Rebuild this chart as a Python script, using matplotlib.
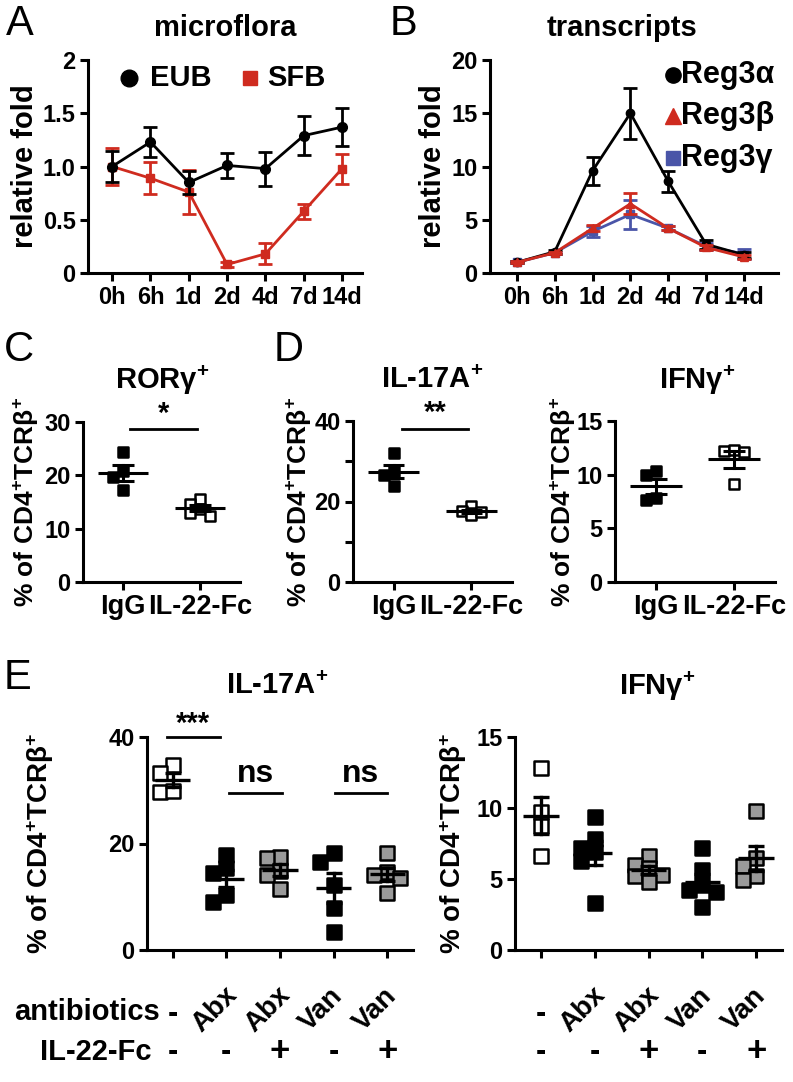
import numpy as np
import matplotlib
matplotlib.use("Agg")
import matplotlib.pyplot as plt

plt.rcParams["font.family"] = ["Liberation Sans", "DejaVu Sans"]
plt.rcParams["font.weight"] = "bold"
plt.rcParams["mathtext.fontset"] = "custom"
plt.rcParams["mathtext.rm"] = "Liberation Sans:bold"
plt.rcParams["mathtext.bf"] = "Liberation Sans:bold"
plt.rcParams["mathtext.default"] = "rm"

# ---- data ----
time_labels = ["0h", "6h", "1d", "2d", "4d", "7d", "14d"]

eub_mean = [1.00, 1.23, 0.85, 1.01, 0.98, 1.29, 1.37]
eub_err = [0.15, 0.14, 0.11, 0.12, 0.16, 0.18, 0.18]
sfb_mean = [1.00, 0.89, 0.76, 0.08, 0.18, 0.58, 0.98]
sfb_err = [0.17, 0.15, 0.21, 0.02, 0.10, 0.07, 0.14]

reg3a_mean = [1.0, 2.0, 9.6, 15.0, 8.6, 2.7, 1.7]
reg3a_err = [0.1, 0.2, 1.3, 2.4, 1.0, 0.4, 0.3]
reg3b_mean = [1.0, 1.9, 4.2, 6.5, 4.2, 2.4, 1.5]
reg3b_err = [0.1, 0.1, 0.3, 1.0, 0.2, 0.2, 0.2]
reg3g_mean = [1.0, 1.9, 3.9, 5.5, 4.2, 2.5, 1.8]
reg3g_err = [0.1, 0.1, 0.5, 1.4, 0.2, 0.3, 0.5]

cd_groups = ["IgG", "IL-22-Fc"]
ror_igg = [24.4, 20.8, 19.6, 17.2]
ror_il22 = [15.5, 14.6, 13.6, 13.0, 12.3]
il17_igg = [32.0, 27.5, 26.5, 23.8]
il17_il22 = [19.0, 17.6, 17.2, 16.6, 17.4]
ifn_igg = [10.3, 10.0, 7.8, 7.6]
ifn_il22 = [12.2, 12.3, 12.1, 9.1]

e_antibiotics = ["-", "Abx", "Abx", "Van", "Van"]
e_il22 = ["-", "-", "+", "-", "+"]
e_il17 = [
    [34.7, 33.3, 29.7, 29.9],
    [17.8, 15.4, 14.4, 10.3, 9.0],
    [17.5, 17.2, 14.8, 14.0, 11.4],
    [18.2, 16.5, 12.2, 7.9, 3.4],
    [18.2, 14.7, 14.1, 13.5, 10.7],
]
e_ifn = [
    [12.8, 9.7, 8.7, 6.6],
    [9.4, 7.8, 7.2, 6.9, 6.3, 3.3],
    [6.6, 6.0, 5.8, 5.3, 5.2, 4.8],
    [7.2, 5.6, 4.6, 4.2, 4.1, 3.0],
    [9.8, 6.5, 5.9, 5.2, 4.9],
]

RED = "#cf2b1f"
BLUE = "#4a55a8"
GRAY = "#9a9a9a"

W, H = 793, 1082
fig = plt.figure(figsize=(W / 100, H / 100), dpi=100)


def box(x0, y0, x1, y1):
    return [x0 / W, 1 - y1 / H, (x1 - x0) / W, (y1 - y0) / H]


def ftext(x, y, s, **kw):
    fig.text(x / W, 1 - y / H, s, **kw)


def style(ax, lw=2.2, size=17):
    for s in ["top", "right"]:
        ax.spines[s].set_visible(False)
    for s in ["left", "bottom"]:
        ax.spines[s].set_linewidth(lw)
    ax.tick_params(width=lw, length=6, labelsize=size, pad=3)
    for t in ax.get_yticklabels() + ax.get_xticklabels():
        t.set_fontweight("bold")


def place_ylabel(ax, text, px, size):
    # centre of the y label at a pixel column of the figure
    x0 = ax.get_position().x0 * W
    w = ax.get_position().width * W
    ax.set_ylabel(text, fontsize=size, fontweight="bold", va="center")
    ax.yaxis.set_label_coords((px - x0) / w, 0.5)


ylab = "% of CD4$^{+}$TCRβ$^{+}$"

# ---- A ----
axA = fig.add_axes(box(88, 60, 362, 273))
x = np.arange(len(time_labels))
axA.errorbar(x, eub_mean, yerr=eub_err, color="black", lw=2, marker="o", ms=7,
             capsize=5, capthick=2, elinewidth=2, zorder=3)
axA.errorbar(x, sfb_mean, yerr=sfb_err, color=RED, lw=2, marker="s", ms=6,
             capsize=5, capthick=2, elinewidth=2, zorder=2)
axA.set_xlim(-0.63, 6.52)
axA.set_ylim(0, 2)
axA.set_yticks([0, 0.5, 1.0, 1.5, 2])
axA.set_yticklabels(["0", "0.5", "1.0", "1.5", "2"])
axA.set_xticks(x)
axA.set_xticklabels(time_labels)
style(axA)
place_ylabel(axA, "relative fold", 25, 21)
axA.plot([0.45], [1.83], "o", color="black", ms=12, clip_on=False)
axA.text(1.0, 1.83, "EUB", fontsize=21, va="center", fontweight="bold")
axA.plot([3.6], [1.83], "s", color=RED, ms=10, clip_on=False)
axA.text(4.05, 1.83, "SFB", fontsize=21, va="center", fontweight="bold")

# ---- B ----
axB = fig.add_axes(box(490, 60, 778, 273))
axB.errorbar(x, reg3a_mean, yerr=reg3a_err, color="black", lw=2, marker="o", ms=6,
             capsize=5, capthick=2, elinewidth=2, zorder=3)
axB.errorbar(x, reg3g_mean, yerr=reg3g_err, color=BLUE, lw=2, marker="s", ms=6,
             capsize=5, capthick=2, elinewidth=2, zorder=2)
axB.errorbar(x, reg3b_mean, yerr=reg3b_err, color=RED, lw=2, marker="^", ms=6,
             capsize=5, capthick=2, elinewidth=2, zorder=4)
axB.set_xlim(-0.71, 6.9)
axB.set_ylim(0, 20)
axB.set_yticks([0, 5, 10, 15, 20])
axB.set_xticks(x)
axB.set_xticklabels(time_labels)
style(axB)
place_ylabel(axB, "relative fold", 433, 21)
leg_names = ["Reg3α", "Reg3β", "Reg3γ"]
leg_style = [("o", "black", 11), ("^", RED, 11), ("s", BLUE, 10)]
for i, (name, (m, c, s)) in enumerate(zip(leg_names, leg_style)):
    yy = 18.6 - i * 3.9
    axB.plot([4.12], [yy], m, color=c, ms=s, clip_on=False)
    axB.text(4.33, yy, name, fontsize=22, va="center", fontweight="bold")


# ---- scatter helpers ----
def swarm_offsets(ax, vals, marker_px, step=0.5, gap=0.8):
    order = np.argsort(vals)[::-1]
    placed = []
    offs = np.zeros(len(vals))
    p0 = ax.transData.transform((0, 0))
    p1 = ax.transData.transform((1, 1))
    sx, sy = p1[0] - p0[0], p1[1] - p0[1]
    cands = [0, -1, 1, -2, 2, -3, 3]
    for i in order:
        vy = vals[i] * sy
        for c in cands:
            ox = c * marker_px * step
            ok = all(abs(vy - py) > marker_px * gap or abs(ox - px) > marker_px * gap
                     for px, py in placed)
            if ok:
                placed.append((ox, vy))
                offs[i] = ox / sx
                break
    return offs


def dot_group(ax, xc, vals, face, ms, mean_hw=0.33, cap_hw=0.14, lw=2.2):
    vals = np.asarray(vals, float)
    offs = swarm_offsets(ax, vals, ms * 100 / 72)
    ax.scatter(xc + offs, vals, marker="s", s=ms ** 2, facecolor=face,
               edgecolor="black", linewidth=1.8, zorder=3)
    m = vals.mean()
    se = vals.std(ddof=1) / np.sqrt(len(vals))
    ax.plot([xc - mean_hw, xc + mean_hw], [m, m], color="black", lw=lw, zorder=4,
            solid_capstyle="butt")
    ax.plot([xc - cap_hw, xc + cap_hw], [m + se, m + se], color="black", lw=lw, zorder=4,
            solid_capstyle="butt")
    ax.plot([xc - cap_hw, xc + cap_hw], [m - se, m - se], color="black", lw=lw, zorder=4,
            solid_capstyle="butt")
    ax.plot([xc, xc], [m - se, m + se], color="black", lw=lw, zorder=4)


def sig(ax, x0, x1, y, label, ty, fs=21):
    ax.plot([x0, x1], [y, y], color="black", lw=2, clip_on=False)
    ax.text((x0 + x1) / 2, ty, label, ha="center", va="center", fontsize=fs,
            fontweight="bold", clip_on=False)


def cd_panel(rect, ylim, yticks, a, b, label_px, minor=None):
    ax = fig.add_axes(rect)
    ax.set_xlim(-0.52, 1.52)
    ax.set_ylim(*ylim)
    ax.set_yticks(yticks)
    if minor is not None:
        ax.set_yticks(minor, minor=True)
        ax.tick_params(which="minor", width=2.2, length=6)
    ax.set_xticks([0, 1])
    ax.set_xticklabels(cd_groups)
    style(ax)
    for t in ax.get_xticklabels():
        t.set_fontsize(19.5)
    dot_group(ax, 0, a, "black", 7)
    dot_group(ax, 1, b, "white", 7)
    place_ylabel(ax, ylab, label_px, 19)
    return ax


axC = cd_panel(box(83, 422, 240, 582), (0, 30), [0, 10, 20, 30], ror_igg, ror_il22, 26)
sig(axC, 0.09, 0.96, 28.7, "*", 31.6)
axD1 = cd_panel(box(353, 421, 512, 582), (0, 40), [0, 20, 40], il17_igg, il17_il22, 299,
                minor=[10, 30])
sig(axD1, 0.11, 0.96, 38.0, "**", 42.0)
axD2 = cd_panel(box(615, 421, 775, 582), (0, 15), [0, 5, 10, 15], ifn_igg, ifn_il22, 563)

# ---- E ----
faces = ["white", "black", GRAY, "black", GRAY]


def e_panel(rect, ylim, yticks, groups, label_px):
    ax = fig.add_axes(rect)
    ax.set_xlim(-0.48, 4.48)
    ax.set_ylim(*ylim)
    ax.set_yticks(yticks)
    ax.set_xticks(range(len(groups)))
    ax.set_xticklabels([])
    style(ax)
    for i, vals in enumerate(groups):
        dot_group(ax, i, vals, faces[i], 9.5, mean_hw=0.33, cap_hw=0.15, lw=2.4)
    place_ylabel(ax, ylab, label_px, 20)
    for i, (ab, il) in enumerate(zip(e_antibiotics, e_il22)):
        if ab == "-":
            ax.annotate("-", xy=(i, 0), xycoords=("data", "axes fraction"),
                        xytext=(0, -64), textcoords="offset pixels", ha="center",
                        va="center", fontsize=22, fontweight="bold")
        else:
            ax.annotate(ab, xy=(i, 0), xycoords=("data", "axes fraction"),
                        xytext=(-12, -60), textcoords="offset pixels", ha="center",
                        va="center", fontsize=20, fontweight="bold", rotation=45)
        ax.annotate(il, xy=(i, 0), xycoords=("data", "axes fraction"),
                    xytext=(0, -102), textcoords="offset pixels", ha="center",
                    va="center", fontsize=25 if il == "+" else 22, fontweight="bold")
    return ax


axE1 = e_panel(box(147, 737, 413, 950), (0, 40), [0, 20, 40], e_il17, 40)
sig(axE1, -0.11, 0.875, 40.0, "***", 42.4)
sig(axE1, 1.04, 2.03, 29.5, "ns", 33.0, fs=23)
sig(axE1, 3.02, 4.0, 29.5, "ns", 33.0, fs=23)
axE2 = e_panel(box(515, 737, 782, 950), (0, 15), [0, 5, 10, 15], e_ifn, 453)

ftext(160, 1012, "antibiotics", ha="right", va="center", fontsize=21, fontweight="bold")
ftext(152, 1052, "IL-22-Fc", ha="right", va="center", fontsize=21, fontweight="bold")

# ---- titles and panel letters ----
title_kw = dict(ha="center", va="center", fontsize=21, fontweight="bold")
ftext(225, 28, "microflora", **title_kw)
ftext(622, 28, "transcripts", **title_kw)
ftext(162, 380, "RORγ$^{+}$", **title_kw)
ftext(432, 380, "IL-17A$^{+}$", **title_kw)
ftext(697, 380, "IFNγ$^{+}$", **title_kw)
ftext(277, 686, "IL-17A$^{+}$", **title_kw)
ftext(657, 686, "IFNγ$^{+}$", **title_kw)

let_kw = dict(ha="left", va="center", fontsize=30, fontweight="normal")
ftext(6, 24, "A", **let_kw)
ftext(390, 24, "B", **let_kw)
ftext(4, 350, "C", **let_kw)
ftext(274, 350, "D", **let_kw)
ftext(4, 678, "E", **let_kw)

fig.savefig("out.png", dpi=100)
